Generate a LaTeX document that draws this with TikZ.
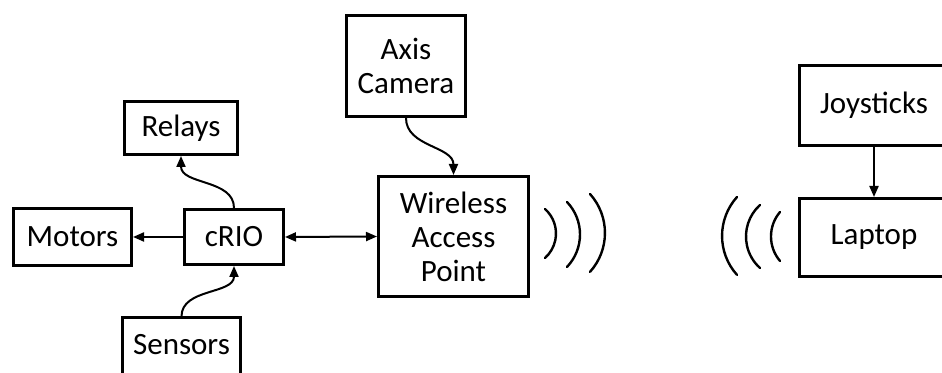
\documentclass[tikz,border=0pt]{standalone}
\usepackage{fontspec}
\setmainfont{Carlito}
\usetikzlibrary{arrows.meta,positioning}

\begin{document}
\begin{tikzpicture}[x=0.5pt, y=0.5pt,
    >={Triangle[length=5.5pt, width=4.5pt]},
    blk/.style={rectangle, draw=black, line width=1.5pt, inner sep=2pt, align=center,
                font=\fontsize{15.5}{17}\selectfont},
    cut/.style={blk, anchor=west, minimum width=200pt/2},
    lnk/.style={->, line width=1pt},
    wave/.style={line width=1.2pt, line cap=round}]
\useasboundingbox (0,0) rectangle (942,373);
\clip (0,0) rectangle (942,373);
\node[blk, minimum width=118pt/2, minimum height=57pt/2] (motors) at (72.5,136) {Motors};
\node[blk, minimum width=99pt/2, minimum height=55pt/2] (crio) at (234,136) {cRIO};
\node[blk, minimum width=113pt/2, minimum height=53pt/2] (relays) at (181,245) {Relays};
% boxes cut off at the picture's edge
\node[blk, minimum width=118pt/2, minimum height=70pt/2, text depth=18pt/2] (sensors) at (181.5,20) {Sensors};
\node[blk, minimum width=119pt/2, minimum height=101pt/2] (camera) at (406,307) {Axis\\Camera};
\node[blk, minimum width=150pt/2, minimum height=120pt/2] (wap) at (453.5,136.5) {Wireless\\Access\\Point};
\node[cut, minimum height=80pt/2] (joy) at (798,267.5) {Joysticks\hspace*{25.5pt}};
\node[cut, minimum height=78pt/2] (laptop) at (798,135.5) {Laptop\hspace*{25.5pt}};
% links
\draw[lnk] (crio.west) -- (motors.east);
\draw[lnk, <->] (crio.east) -- (wap.west);
\draw[lnk] (crio.north) to[out=90,in=-90] (relays.south);
\draw[lnk] (sensors.north) to[out=90,in=-90] (crio.south);
\draw[lnk] (camera.south) to[out=-90,in=90] (wap.north);
\draw[lnk] (joy.south -| 874,0) -- (laptop.north -| 874,0);
% radio waves
\draw[wave] (545,164) arc[start angle=48.3, end angle=-48.3, radius=32.8];
\draw[wave] (567,171) arc[start angle=43.6, end angle=-43.6, radius=47.1];
\draw[wave] (590,179) arc[start angle=42, end angle=-42, radius=58.2];
\draw[wave] (737,176) arc[start angle=138, end angle=222, radius=58.2];
\draw[wave] (760,168) arc[start angle=132, end angle=228, radius=42.4];
\draw[wave] (780,161) arc[start angle=139.6, end angle=220.4, radius=37.8];
\end{tikzpicture}
\end{document}
